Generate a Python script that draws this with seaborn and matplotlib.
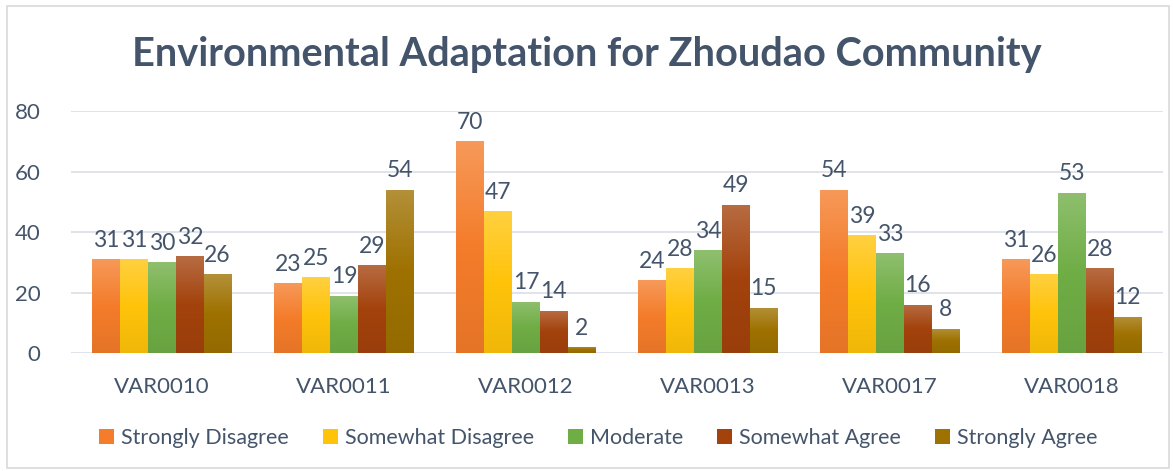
import matplotlib
matplotlib.use('Agg')
import matplotlib.pyplot as plt
import seaborn as sns
import numpy as np
import pandas as pd
from matplotlib.colors import LinearSegmentedColormap, to_rgb
from matplotlib.patches import Rectangle, Patch

# Data
variables = ['VAR0010', 'VAR0011', 'VAR0012', 'VAR0013', 'VAR0017', 'VAR0018']
responses = ['Strongly Disagree', 'Somewhat Disagree', 'Moderate',
             'Somewhat Agree', 'Strongly Agree']
strongly_disagree = [31, 23, 70, 24, 54, 31]
somewhat_disagree = [31, 25, 47, 28, 39, 26]
moderate = [30, 19, 17, 34, 33, 53]
somewhat_agree = [32, 29, 14, 49, 16, 28]
strongly_agree = [26, 54, 2, 15, 8, 12]

colors = ['#F47C2A', '#FFC30A', '#6FAD45', '#A3420C', '#9E7100']
text_color = '#44546A'
grid_color = '#DDE1E7'

series = [strongly_disagree, somewhat_disagree, moderate, somewhat_agree, strongly_agree]
df = pd.DataFrame({
    'variable': np.repeat([variables], len(responses), axis=0).ravel(),
    'response': np.repeat(responses, len(variables)),
    'count': np.concatenate(series),
})

sns.set_style('white')
plt.rcParams['font.family'] = ['Lato', 'DejaVu Sans']

fig = plt.figure(figsize=(11.73, 4.71), dpi=100)
ax = fig.add_axes([0.0605, 0.2505, 0.931, 0.5138])

sns.barplot(data=df, x='variable', y='count', hue='response', order=variables,
            hue_order=responses, palette=colors, width=0.765, gap=0,
            saturation=1, legend=False, ax=ax, errorbar=None)

# Gradient fill for each bar (lighter top, darker bottom)
def shade(c, f):
    r = np.array(to_rgb(c))
    if f >= 0:
        return tuple(r + (1 - r) * f)
    return tuple(r * (1 + f))

for i, cont in enumerate(ax.containers):
    base = colors[i]
    cmap = LinearSegmentedColormap.from_list(
        f'g{i}', [shade(base, -0.06), base, shade(base, 0.22)])
    for bar in cont:
        x0, y0 = bar.get_x(), bar.get_y()
        w, h = bar.get_width(), bar.get_height()
        grad = np.linspace(0, 1, 100).reshape(-1, 1)
        im = ax.imshow(grad, cmap=cmap, origin='lower', aspect='auto',
                       extent=[x0, x0 + w, y0, y0 + h], zorder=2)
        im.set_clip_path(bar)
        bar.set_facecolor('none')
        bar.set_edgecolor('none')
    ax.bar_label(cont, padding=6, fontsize=16.5, color=text_color)

ax.set_xlim(-0.5, len(variables) - 0.5)
ax.set_ylim(0, 80)
ax.set_yticks([0, 20, 40, 60, 80])
ax.set_aspect('auto')

ax.grid(axis='y', color=grid_color, linewidth=1.3, zorder=0)
ax.set_axisbelow(True)
for s in ax.spines.values():
    s.set_visible(False)
ax.tick_params(axis='both', length=0, labelsize=16, labelcolor=text_color)
ax.tick_params(axis='y', pad=22)
ax.tick_params(axis='x', pad=17)
ax.set_xlabel('')
ax.set_ylabel('')

fig.text(0.5, 0.885, 'Environmental Adaptation for Zhoudao Community',
         ha='center', va='center', fontsize=28.6, fontweight='bold', color=text_color)

handles = [Patch(facecolor=c, edgecolor='none') for c in colors]
fig.legend(handles, responses, loc='center', bbox_to_anchor=(0.51, 0.07),
           ncol=5, frameon=False, fontsize=15.5, handlelength=0.7,
           handleheight=0.7, handletextpad=0.3, columnspacing=1.6,
           labelcolor=text_color)

fig.patches.append(Rectangle((0.006, 0.006), 0.991, 0.982, transform=fig.transFigure,
                             fill=False, edgecolor='#D9D9D9', linewidth=1.2))

plt.savefig('out.png', dpi=100)
plt.close()
